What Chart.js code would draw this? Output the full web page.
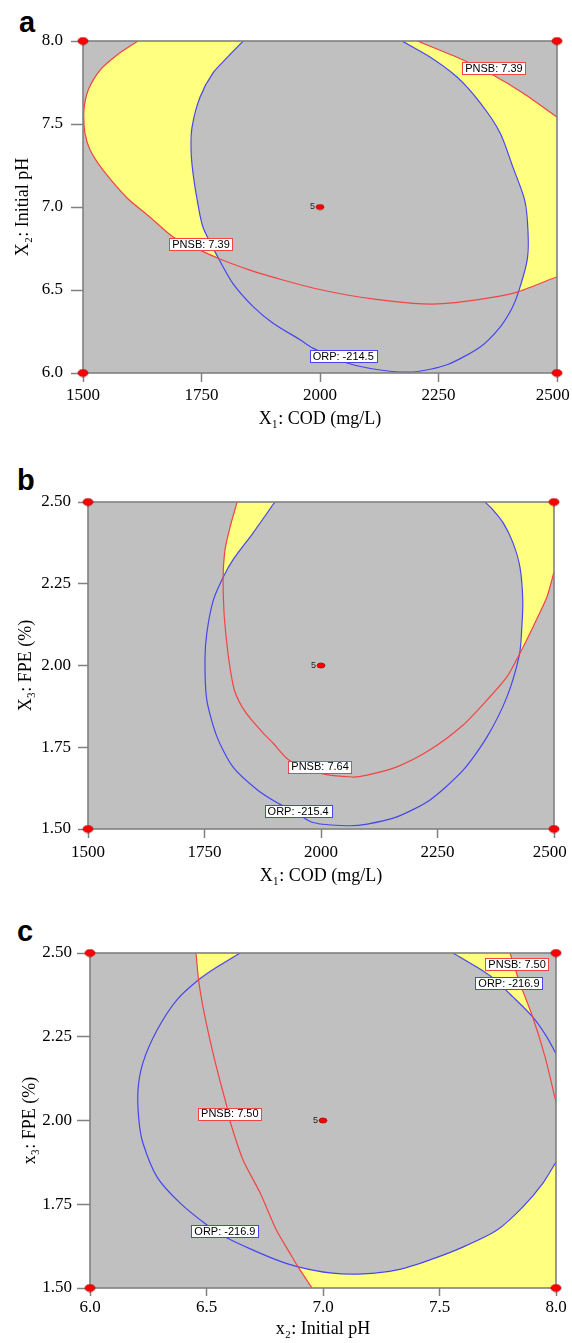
<!DOCTYPE html>
<html><head><meta charset="utf-8">
<script src="https://cdn.jsdelivr.net/npm/chart.js@4/dist/chart.umd.min.js"></script>
<style>
html,body{margin:0;padding:0;background:#fff;}
body{width:572px;height:1343px;position:relative;overflow:hidden;}
.panel{position:absolute;left:0;width:572px;}
.tag{position:absolute;font:bold 29px "Liberation Sans",Arial,sans-serif;line-height:29px;color:#000;}
</style></head><body>
<div class="tag" style="left:19px;top:8px">a</div>
<div class="tag" style="left:17px;top:466px">b</div>
<div class="tag" style="left:17px;top:917px">c</div>
<div class="panel" style="top:0;height:440px"><canvas id="ca"></canvas></div>
<div class="panel" style="top:440px;height:450px"><canvas id="cb"></canvas></div>
<div class="panel" style="top:890px;height:453px"><canvas id="cc"></canvas></div>
<script>
// ---------------- data ----------------
const codTicks = [1500, 1750, 2000, 2250, 2500];
const phTicks = [6.0, 6.5, 7.0, 7.5, 8.0];
const fpeTicks = [1.50, 1.75, 2.00, 2.25, 2.50];

// panel a : COD vs initial pH
const aPnsbLow = [[1616,8.0],[1572,7.916],[1536,7.825],[1511,7.705],[1502,7.584],[1504,7.446],[1515,7.343],[1542,7.223],[1593,7.054],[1641,6.94],[1690,6.82],[1747,6.74],[1786,6.69],[1852,6.62],[1922,6.56],[1985,6.512],[2057,6.47],[2127,6.44],[2196,6.42],[2247,6.416],[2302,6.43],[2373,6.46],[2419,6.49],[2500,6.58]];
const aPnsbHigh = [[2205,8.0],[2302,7.886],[2365,7.795],[2428,7.687],[2500,7.542]];
const aOrp = [[1838,8.0],[1804,7.90],[1774,7.807],[1747,7.663],[1730,7.48],[1728,7.343],[1732,7.205],[1741,7.04],[1753,6.88],[1786,6.69],[1816,6.54],[1859,6.40],[1901,6.30],[1958,6.20],[1985,6.15],[2057,6.06],[2127,6.018],[2196,6.006],[2268,6.05],[2338,6.157],[2380,6.277],[2405,6.39],[2419,6.49],[2437,6.68],[2439,6.84],[2432,7.04],[2407,7.24],[2380,7.446],[2338,7.627],[2289,7.783],[2232,7.904],[2173,8.0]];
const aCross1 = [1786,6.69];
const aCross2 = [2419,6.49];
const aDesign = [[1500,8.0],[2500,8.0],[1500,6.0],[2500,6.0],[2000,7.0]];
const aLabelText = ['PNSB: 7.39','PNSB: 7.39','ORP: -214.5'];
const aLabelX = [2367, 1749, 2049];
const aLabelY = [7.837, 6.777, 6.102];
const aLabelKind = ['pnsb','pnsb','orp'];

// panel b : COD vs FPE
const bPnsb = [[1820,2.5],[1805,2.424],[1794,2.353],[1790,2.27],[1792,2.16],[1797,2.08],[1804,2.0],[1814,1.925],[1830,1.875],[1850,1.835],[1875,1.795],[1897,1.763],[1931,1.711],[1998,1.671],[2067,1.659],[2099,1.665],[2163,1.69],[2234,1.742],[2305,1.818],[2356,1.894],[2399,1.965],[2426,2.035],[2455,2.118],[2485,2.21],[2500,2.286]];
const bOrp = [[1901,2.5],[1854,2.405],[1811,2.323],[1790,2.27],[1769,2.20],[1755,2.10],[1751,2.017],[1755,1.894],[1777,1.781],[1811,1.69],[1863,1.62],[1906,1.58],[1940,1.555],[1983,1.52],[2056,1.51],[2099,1.515],[2163,1.537],[2234,1.589],[2305,1.68],[2356,1.781],[2399,1.904],[2426,2.035],[2431,2.118],[2433,2.20],[2427,2.30],[2412,2.375],[2391,2.436],[2369,2.476],[2352,2.5]];
const bCross1 = [1790,2.27];
const bCross2 = [2426,2.035];
const bCorner = [2500,2.5];
const bDesign = [[1500,2.5],[2500,2.5],[1500,1.5],[2500,1.5],[2000,2.0]];
const bLabelText = ['PNSB: 7.64','ORP: -215.4'];
const bLabelX = [1998, 1951];
const bLabelY = [1.69, 1.555];
const bLabelKind = ['pnsb','orp'];

// panel c : initial pH vs FPE
const cPnsbLeft = [[6.455,2.5],[6.466,2.42],[6.485,2.339],[6.515,2.24],[6.549,2.142],[6.588,2.04],[6.60,2.0],[6.657,1.882],[6.73,1.784],[6.80,1.673],[6.858,1.604],[6.893,1.563],[6.953,1.5]];
const cPnsbRight = [[7.803,2.5],[7.845,2.41],[7.90,2.309],[7.953,2.19],[8.0,2.055]];
const cOrpMain = [[6.644,2.5],[6.545,2.458],[6.466,2.42],[6.373,2.36],[6.288,2.27],[6.227,2.172],[6.206,2.09],[6.21,2.0],[6.227,1.933],[6.288,1.831],[6.386,1.754],[6.502,1.688],[6.588,1.649],[6.70,1.613],[6.80,1.584],[6.893,1.563],[7.03,1.545],[7.17,1.542],[7.318,1.554],[7.459,1.584],[7.60,1.622],[7.747,1.673],[7.858,1.742],[7.944,1.813],[8.0,1.876]];
const cOrpCorner = [[8.0,2.199],[7.961,2.249],[7.90,2.309],[7.815,2.369],[7.73,2.425],[7.66,2.458],[7.558,2.5]];
const cCross1 = [6.466,2.42];
const cCross2 = [7.90,2.309];
const cCross3 = [6.893,1.563];
const cCorner = [8.0,1.5];
const cDesign = [[6.0,2.5],[8.0,2.5],[6.0,1.5],[8.0,1.5],[7.0,2.0]];
const cLabelText = ['PNSB: 7.50','ORP: -216.9','PNSB: 7.50','ORP: -216.9'];
const cLabelX = [6.60, 6.579, 7.833, 7.798];
const cLabelY = [2.02, 1.67, 2.467, 2.41];
const cLabelKind = ['pnsb','orp','pnsb','orp'];

const centerRuns = '5';

// ---------------- helpers ----------------
const at = (arr, p) => arr.findIndex(q => q[0] === p[0] && q[1] === p[1]);
const toXY = a => a.map(p => ({x: p[0], y: p[1]}));

const aYellow = [
  aOrp.slice(0, at(aOrp, aCross1) + 1).concat(aPnsbLow.slice(0, at(aPnsbLow, aCross1)).reverse()),
  aOrp.slice(at(aOrp, aCross2)).concat(aPnsbHigh, aPnsbLow.slice(at(aPnsbLow, aCross2)).reverse())
];
const bYellow = [
  bOrp.slice(0, at(bOrp, bCross1) + 1).concat(bPnsb.slice(0, at(bPnsb, bCross1)).reverse()),
  bOrp.slice(at(bOrp, bCross2)).concat([bCorner], bPnsb.slice(at(bPnsb, bCross2)).reverse())
];
const cYellow = [
  cOrpMain.slice(0, at(cOrpMain, cCross1) + 1).concat(cPnsbLeft.slice(0, at(cPnsbLeft, cCross1)).reverse()),
  cOrpCorner.slice(at(cOrpCorner, cCross2)).concat(cPnsbRight.slice(0, at(cPnsbRight, cCross2))),
  cOrpMain.slice(at(cOrpMain, cCross3)).concat([cCorner], cPnsbLeft.slice(at(cPnsbLeft, cCross3)).reverse())
];

const YELLOW = '#FFFF80', BG = '#C0C0C0', FRAME = '#808080';
const RED = '#F24444', BLUE = '#4646EE';
const SERIF = '"Liberation Serif","Times New Roman",serif';
const SANS = '"Liberation Sans",Arial,sans-serif';

function dot(w, h) {
  const c = document.createElement('canvas');
  c.width = w + 2; c.height = h + 2;
  const g = c.getContext('2d');
  g.beginPath();
  g.ellipse((w + 2) / 2, (h + 2) / 2, w / 2, h / 2, 0, 0, Math.PI * 2);
  g.fillStyle = '#FF0000'; g.fill();
  g.lineWidth = 0.8; g.strokeStyle = '#B00000'; g.stroke();
  return c;
}
const bigDot = dot(10, 7), smallDot = dot(8, 5);

const panelPlugin = {
  id: 'panelDeco',
  beforeDatasetsDraw(chart) {
    const {ctx, chartArea: a} = chart;
    ctx.save(); ctx.fillStyle = BG;
    ctx.fillRect(a.left, a.top, a.right - a.left, a.bottom - a.top);
    ctx.restore();
  },
  beforeDatasetDraw(chart, args) {
    if (args.index !== 0) return;
    const {ctx, chartArea: a} = chart;
    ctx.save(); ctx.strokeStyle = FRAME; ctx.lineWidth = 1.6;
    ctx.strokeRect(a.left, a.top, a.right - a.left, a.bottom - a.top);
    ctx.restore();
  },
  afterDatasetsDraw(chart, args, opts) {
    const {ctx} = chart;
    const xs = chart.scales.x, ys = chart.scales.y;
    ctx.save();
    ctx.font = '11px ' + SANS;
    ctx.textBaseline = 'middle';
    ctx.textAlign = 'center';
    opts.text.forEach((t, i) => {
      const px = xs.getPixelForValue(opts.x[i]);
      const py = ys.getPixelForValue(opts.y[i]);
      const w = ctx.measureText(t).width + 6, h = 12;
      ctx.fillStyle = '#fff';
      ctx.fillRect(Math.round(px - w / 2) + 0.5, Math.round(py - h / 2) + 0.5, Math.round(w), h);
      ctx.strokeStyle = opts.kind[i] === 'orp' ? BLUE : RED;
      ctx.lineWidth = 1;
      ctx.strokeRect(Math.round(px - w / 2) + 0.5, Math.round(py - h / 2) + 0.5, Math.round(w), h);
      ctx.fillStyle = '#000';
      ctx.fillText(t, px, py + 0.5);
    });
    const c = opts.center;
    const cx = xs.getPixelForValue(c[0]), cy = ys.getPixelForValue(c[1]);
    ctx.font = '9px ' + SANS;
    ctx.textAlign = 'right';
    ctx.fillStyle = '#222';
    ctx.fillText(centerRuns, cx - 5, cy);
    ctx.restore();
  }
};

function makeChart(id, p) {
  const datasets = [];
  datasets.push({
    data: toXY(p.design), showLine: false, clip: false, order: 0,
    pointStyle: ctx => ctx.dataIndex === p.design.length - 1 ? smallDot : bigDot,
    pointRadius: 5, pointHoverRadius: 5, pointBorderWidth: 0
  });
  p.lines.forEach(l => datasets.push({
    data: toXY(l.pts), borderColor: l.color, borderWidth: 1.2, pointRadius: 0,
    fill: false, tension: 0.25, order: 1
  }));
  p.polys.forEach(poly => datasets.push({
    data: toXY(poly), borderColor: 'rgba(0,0,0,0)', borderWidth: 0, backgroundColor: YELLOW,
    fill: 'shape', pointRadius: 0, tension: 0, order: 2
  }));
  return new Chart(document.getElementById(id), {
    type: 'line',
    data: {datasets},
    plugins: [panelPlugin],
    options: {
      responsive: true, maintainAspectRatio: false, animation: false, events: [],
      layout: {padding: {left: 0, right: p.padRight, top: p.padTop, bottom: 0}},
      plugins: {
        legend: {display: false}, tooltip: {enabled: false},
        panelDeco: {text: p.labelText, x: p.labelX, y: p.labelY, kind: p.labelKind, center: p.design[p.design.length - 1]}
      },
      scales: {
        x: {
          type: 'linear', min: p.xTicks[0], max: p.xTicks[p.xTicks.length - 1],
          afterBuildTicks: s => { s.ticks = p.xTicks.map(v => ({value: v})); },
          ticks: {callback: p.xFmt, font: {family: SERIF, size: 17}, color: '#000', padding: p.xPad, maxRotation: 0, autoSkip: false},
          grid: {display: true, drawOnChartArea: false, drawTicks: true, tickLength: p.xTick, tickColor: FRAME, tickWidth: 1.5},
          border: {display: false},
          title: {display: true, text: p.xTitle, font: {family: SERIF, size: 18}, color: '#000', padding: {top: 0, bottom: p.xTitlePad}},
          afterFit: s => { s.height = p.xHeight; s.paddingLeft = 0; s.paddingRight = 0; }
        },
        y: {
          type: 'linear', min: p.yTicks[0], max: p.yTicks[p.yTicks.length - 1],
          afterBuildTicks: s => { s.ticks = p.yTicks.map(v => ({value: v})); },
          ticks: {callback: p.yFmt, font: {family: SERIF, size: 17}, color: '#000', padding: p.yPad, autoSkip: false},
          grid: {display: true, drawOnChartArea: false, drawTicks: true, tickLength: p.yTick, tickColor: FRAME, tickWidth: 1.5},
          border: {display: false},
          title: {display: true, text: p.yTitle, font: {family: SERIF, size: 18}, color: '#000', padding: {top: p.yTitlePad, bottom: 0}},
          afterFit: s => { s.width = p.yWidth; s.paddingTop = 0; s.paddingBottom = 0; }
        }
      }
    }
  });
}

const f1 = v => Number(v).toFixed(1), f2 = v => Number(v).toFixed(2);
// last COD label sits slightly inside the frame in the original
const fCod = v => v === codTicks[codTicks.length - 1] ? String(v) + '\u2002' : String(v);

makeChart('ca', {
  design: aDesign,
  lines: [{pts: aPnsbLow, color: RED}, {pts: aPnsbHigh, color: RED}, {pts: aOrp, color: BLUE}],
  polys: aYellow,
  labelText: aLabelText, labelX: aLabelX, labelY: aLabelY, labelKind: aLabelKind,
  xTicks: codTicks, yTicks: phTicks, xFmt: fCod, yFmt: f1,
  xTitle: 'X\u2081: COD (mg/L)', yTitle: 'X\u2082: Initial pH',
  padRight: 15, padTop: 41, xHeight: 67, yWidth: 83,
  xTick: 9, xPad: 3, xTitlePad: 10, yTick: 12, yPad: 8, yTitlePad: 12
});
makeChart('cb', {
  design: bDesign,
  lines: [{pts: bPnsb, color: RED}, {pts: bOrp, color: BLUE}],
  polys: bYellow,
  labelText: bLabelText, labelX: bLabelX, labelY: bLabelY, labelKind: bLabelKind,
  xTicks: codTicks, yTicks: fpeTicks, xFmt: fCod, yFmt: f2,
  xTitle: 'X\u2081: COD (mg/L)', yTitle: 'X\u2083: FPE (%)',
  padRight: 18, padTop: 62, xHeight: 61, yWidth: 88,
  xTick: 9, xPad: 4, xTitlePad: 3, yTick: 10, yPad: 7, yTitlePad: 15
});
makeChart('cc', {
  design: cDesign,
  lines: [{pts: cPnsbLeft, color: RED}, {pts: cPnsbRight, color: RED}, {pts: cOrpMain, color: BLUE}, {pts: cOrpCorner, color: BLUE}],
  polys: cYellow,
  labelText: cLabelText, labelX: cLabelX, labelY: cLabelY, labelKind: cLabelKind,
  xTicks: phTicks, yTicks: fpeTicks, xFmt: f1, yFmt: f2,
  xTitle: 'x\u2082: Initial pH', yTitle: 'x\u2083: FPE (%)',
  padRight: 16, padTop: 63, xHeight: 55, yWidth: 90,
  xTick: 8, xPad: 1, xTitlePad: 3, yTick: 13, yPad: 5, yTitlePad: 19
});
</script>
</body></html>
